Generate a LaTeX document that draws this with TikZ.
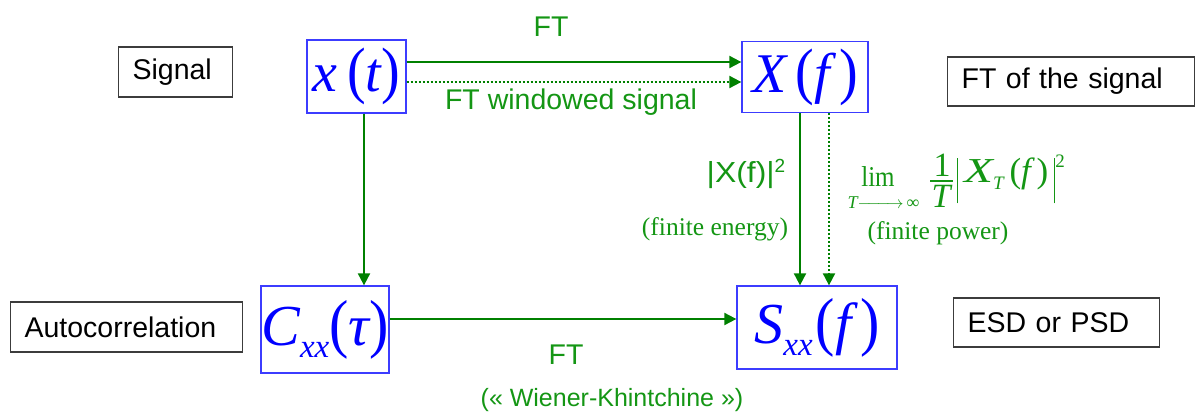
\documentclass[tikz,border=0pt]{standalone}
\usepackage{fontspec}
\setmainfont{Liberation Sans}
\newfontfamily\tms{Liberation Serif}
\usetikzlibrary{arrows.meta}
\definecolor{bbox}{RGB}{60,60,255}
\definecolor{btxt}{RGB}{0,0,255}
\definecolor{garr}{RGB}{0,128,0}
\definecolor{gtxt}{RGB}{20,150,20}
\definecolor{lbl}{RGB}{60,60,60}
\newcommand\fs[1]{\fontsize{#1}{#1}\selectfont}
\newcommand\bpar[1]{\scalebox{1}[1.12]{\upshape #1}}
\begin{document}
\begin{tikzpicture}[x=1pt,y=-1pt,
  mbox/.style={draw=bbox,line width=1.3pt,text=btxt,inner sep=0pt,font=\tms\fs{56}},
  lbox/.style={draw=lbl,line width=1.2pt,inner xsep=14pt,inner ysep=0pt,align=left,font=\fs{28.5},anchor=west},
  arr/.style={draw=garr,line width=2pt,-{Triangle[length=12pt,width=12pt]}},
  dotarr/.style={arr,dash pattern=on 2pt off 2pt},
  gsans/.style={text=gtxt,font=\fs{28.5},inner sep=0pt},
  gserif/.style={text=gtxt,font=\tms\fs{25.5},inner sep=0pt},
  gmath/.style={text=gtxt,font=\tms,inner sep=0pt}
]
\useasboundingbox (0,0) rectangle (1195,413);

% label boxes
\node[lbox,text width=86pt,minimum height=50pt] (sig) at (118,72) {Signal};
\node[lbox,text width=204pt,minimum height=50pt] (auto) at (10,327) {Autocorrelation};
\node[lbox,text width=219pt,minimum height=49pt] (ftsig) at (947,81.5) {FT of the signal};
\node[lbox,text width=178pt,minimum height=49pt] (esd) at (953,322.5) {ESD or PSD};

% math boxes
\node[mbox,minimum width=99pt,minimum height=73pt] (xt) at (356.5,76.5)
  {\itshape x\,\bpar{(}\itshape t\bpar{)}};
\node[mbox,minimum width=126pt,minimum height=71pt] (Xf) at (805,77)
  {\itshape X\,\bpar{(}\itshape f\kern9pt\bpar{)}};
\node[mbox,minimum width=128pt,minimum height=87pt,font=\tms\fs{58}] (C) at (325,329.5)
  {\itshape C\raisebox{-12pt}{\fs{33}\itshape xx}\bpar{(}\itshape τ\bpar{)}};
\node[mbox,minimum width=160pt,minimum height=83pt,font=\tms\fs{58}] (S) at (817,327.5)
  {\itshape S\raisebox{-12pt}{\fs{33}\itshape xx}\kern3pt\bpar{(}\itshape f\kern9pt\bpar{)}};

% helper coordinates
\coordinate (ytop) at (0,62);
\coordinate (ydot) at (0,82);
\coordinate (xl) at (364,0);
\coordinate (xr) at (800,0);
\coordinate (xrd) at (829,0);
\coordinate (ybot) at (0,319);

% connectors
\draw[arr] (xt.east |- ytop) -- (Xf.west |- ytop);
\draw[dotarr] (xt.east |- ydot) -- (Xf.west |- ydot);
\draw[arr] (xl |- xt.south) -- (xl |- C.north);
\draw[arr] (xr |- Xf.south) -- (xr |- S.north);
\draw[dotarr] (xrd |- Xf.south) -- (xrd |- S.north);
\draw[arr] (C.east |- ybot) -- (S.west |- ybot);

% green labels
\node[gsans] (ft1) at (551,27) {FT};
\node[gsans] (ftw) at (571,102) {FT windowed signal};
\node[gsans,font=\fs{29}] (xf2) at (746,174) {\scalebox{1.1}[1]{|X(f)|}\raisebox{10pt}{\fs{19}2}};
\node[gserif] (fe) at (715,229) {(finite energy)};
\node[gserif] (fp) at (938,233) {(finite power)};
\node[gsans] (ft2) at (566,355) {FT};
\node[gsans,font=\fs{25}] (wk) at (612,400) {(« Wiener-Khintchine »)};

% limit formula
\node[gmath,font=\tms\fs{25}] (lim) at (878,177) {\scalebox{1}[1.15]{lim}};
\node[gmath,font=\tms\fs{18}] (lto) at (883.5,203)
  {\itshape T\upshape\hbox to 46pt{\rightarrowfill}\,∞};
\node[gmath,font=\tms\fs{34}] (one) at (942,165) {1};
\node[gmath,font=\tms\fs{34}] (den) at (941,196) {\itshape T};
\coordinate (barl) at (930,181);
\coordinate (barr) at (953,181);
\draw[draw=gtxt,line width=1.2pt] (barl) -- (barr);
\node[gmath,font=\tms\fs{35},anchor=west] (xtf) at (957,179)
  {\rule[-21pt]{1.2pt}{45pt}\,\scalebox{1.35}[1]{\itshape X}\raisebox{-7pt}{\fs{19}\itshape T}\,\upshape(\itshape f\,\upshape)\,\rule[-21pt]{1.2pt}{45pt}\raisebox{15pt}{\fs{19}2}};
\end{tikzpicture}
\end{document}
